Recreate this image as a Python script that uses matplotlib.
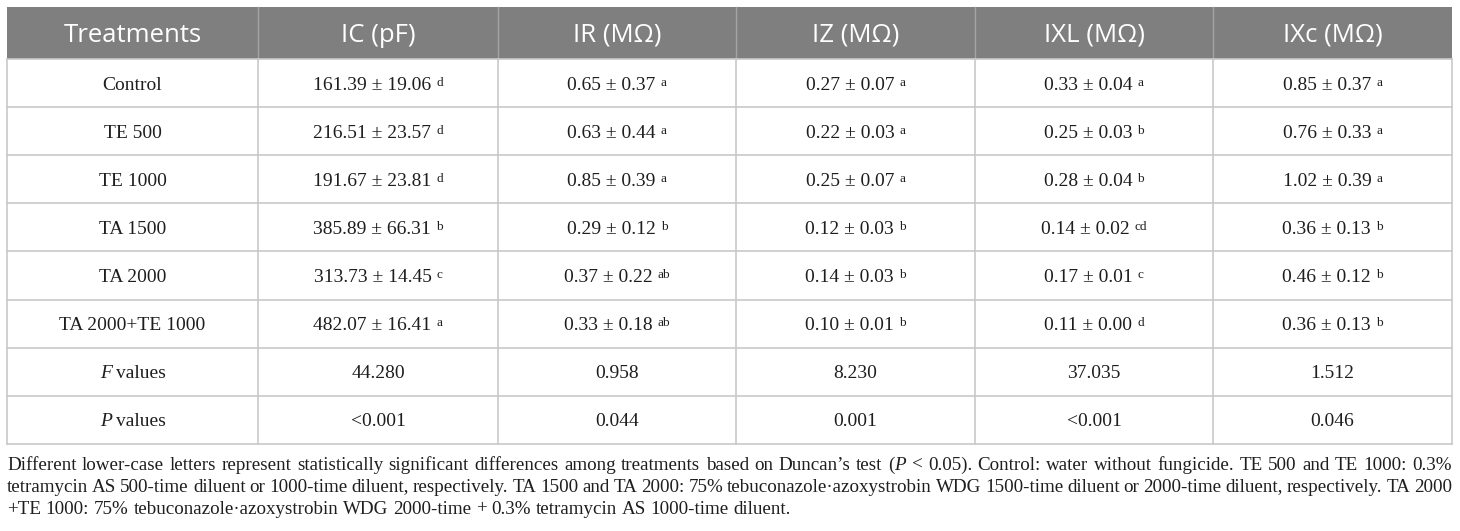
import matplotlib
matplotlib.use('Agg')
import matplotlib.pyplot as plt
from matplotlib.patches import Rectangle

# table content
headers = ['Treatments', 'IC (pF)', 'IR (MΩ)', 'IZ (MΩ)', 'IXL (MΩ)', 'IXc (MΩ)']
treatments = ['Control', 'TE 500', 'TE 1000', 'TA 1500', 'TA 2000', 'TA 2000+TE 1000']

ic_mean = ['161.39', '216.51', '191.67', '385.89', '313.73', '482.07']
ic_sd = ['19.06', '23.57', '23.81', '66.31', '14.45', '16.41']
ic_sig = ['d', 'd', 'd', 'b', 'c', 'a']

ir_mean = ['0.65', '0.63', '0.85', '0.29', '0.37', '0.33']
ir_sd = ['0.37', '0.44', '0.39', '0.12', '0.22', '0.18']
ir_sig = ['a', 'a', 'a', 'b', 'ab', 'ab']

iz_mean = ['0.27', '0.22', '0.25', '0.12', '0.14', '0.10']
iz_sd = ['0.07', '0.03', '0.07', '0.03', '0.03', '0.01']
iz_sig = ['a', 'a', 'a', 'b', 'b', 'b']

ixl_mean = ['0.33', '0.25', '0.28', '0.14', '0.17', '0.11']
ixl_sd = ['0.04', '0.03', '0.04', '0.02', '0.01', '0.00']
ixl_sig = ['a', 'b', 'b', 'cd', 'c', 'd']

ixc_mean = ['0.85', '0.76', '1.02', '0.36', '0.46', '0.36']
ixc_sd = ['0.37', '0.33', '0.39', '0.13', '0.12', '0.13']
ixc_sig = ['a', 'a', 'a', 'b', 'b', 'b']

f_values = ['44.280', '0.958', '8.230', '37.035', '1.512']
p_values = ['<0.001', '0.044', '0.001', '<0.001', '0.046']

caption_lines = [
    'Different lower-case letters represent statistically significant differences among treatments '
    'based on Duncan\u2019s test (*P* < 0.05). Control: water without fungicide. TE 500 and TE 1000: 0.3%',
    'tetramycin AS 500-time diluent or 1000-time diluent, respectively. TA 1500 and TA 2000: 75% '
    'tebuconazole\u00b7azoxystrobin WDG 1500-time diluent or 2000-time diluent, respectively. TA 2000',
    '+TE 1000: 75% tebuconazole\u00b7azoxystrobin WDG 2000-time + 0.3% tetramycin AS 1000-time diluent.',
]

columns = [(ic_mean, ic_sd, ic_sig), (ir_mean, ir_sd, ir_sig), (iz_mean, iz_sd, iz_sig),
           (ixl_mean, ixl_sd, ixl_sig), (ixc_mean, ixc_sd, ixc_sig)]

# layout (pixels)
W, H = 1460, 531
col_x = [7, 258, 498, 736, 975, 1213, 1452]
head_top, head_bot = 7, 59
row_h = 48.1
n_rows = len(treatments) + 2
table_bot = head_bot + n_rows * row_h

SERIF = 'Liberation Serif'
SANS = 'Open Sans'
TXT = '#1e1e1e'
GRID = '#c9c9c9'
BODY_SIZE = 14
SUP_SIZE = 9.5

fig = plt.figure(figsize=(W / 100, H / 100), dpi=100)
ax = fig.add_axes([0, 0, 1, 1])
ax.set_xlim(0, W)
ax.set_ylim(H, 0)
ax.axis('off')
renderer = fig.canvas.get_renderer()


def width_of(s, **kw):
    t = ax.text(0, 0, s, **kw)
    w = t.get_window_extent(renderer).width
    t.remove()
    return w


def runs_centered(cx, y, runs):
    # runs: list of (text, kwargs, dy, gap_before)
    widths = [width_of(r[0], **r[1]) for r in runs]
    total = sum(widths) + sum(r[3] for r in runs)
    x = cx - total / 2
    for r, w in zip(runs, widths):
        x += r[3]
        ax.text(x, y + r[2], r[0], ha='left', va='baseline', color=TXT, **r[1])
        x += w


def row_base(i):
    # half pixels keep words with and without descenders on one baseline
    return round(head_bot + (i + 0.5) * row_h + 6.5) + 0.5


body = dict(family=SERIF, fontsize=BODY_SIZE)
body_i = dict(family=SERIF, fontsize=BODY_SIZE, style='italic')
sup = dict(family=SERIF, fontsize=SUP_SIZE)

# header band
ax.add_patch(Rectangle((col_x[0], head_top), col_x[-1] - col_x[0], head_bot - head_top,
                       facecolor='#7f7f7f', edgecolor='none'))
for x in col_x[1:-1]:
    ax.plot([x, x], [head_top, head_bot], color='#a3a3a3', lw=1)
for j, h in enumerate(headers):
    cx = (col_x[j] + col_x[j + 1]) / 2
    ax.text(cx, 42, h, ha='center', va='baseline', family=SANS, fontsize=18.5, color='white')

# grid
for i in range(n_rows + 1):
    y = head_bot + i * row_h
    ax.plot([col_x[0], col_x[-1]], [y, y], color=GRID, lw=1.2)
for x in col_x:
    ax.plot([x, x], [head_bot, table_bot], color=GRID, lw=1.2)

# body rows
for i, name in enumerate(treatments):
    yb = row_base(i)
    ax.text((col_x[0] + col_x[1]) / 2, yb, name, ha='center', va='baseline', color=TXT, **body)
    for j, (mean, sd, sig) in enumerate(columns):
        cx = (col_x[j + 1] + col_x[j + 2]) / 2
        runs_centered(cx, yb, [(mean[i] + ' \u00b1 ' + sd[i], body, 0, 0),
                               (sig[i], sup, -4, 5)])

stat_rows = [('F', f_values), ('P', p_values)]
for k, (lab, vals) in enumerate(stat_rows):
    yb = row_base(len(treatments) + k)
    runs_centered((col_x[0] + col_x[1]) / 2, yb, [(lab, body_i, 0, 0), ('values', body, 0, 4)])
    for j, v in enumerate(vals):
        cx = (col_x[j + 1] + col_x[j + 2]) / 2
        ax.text(cx, yb, v, ha='center', va='baseline', color=TXT, **body)


# caption, justified like the source
def split_word(wd, cap, cap_i):
    # "*P*" marks italic
    segs = []
    for n, p in enumerate(wd.split('*')):
        if p:
            segs.append((p, cap_i if n % 2 else cap))
    return segs


def measure_lines(size):
    cap = dict(family=SERIF, fontsize=size)
    cap_i = dict(family=SERIF, fontsize=size, style='italic')
    out = []
    for line in caption_lines:
        words = [split_word(w, cap, cap_i) for w in line.split(' ')]
        wws = [sum(width_of(s, **kw) for s, kw in segs) for segs in words]
        out.append((words, wws))
    space = width_of('a a', **cap) - width_of('aa', **cap)
    return out, space


cap_size = 14.8
while True:
    lines, space = measure_lines(cap_size)
    ok = all(sum(wws) + 0.8 * space * (len(wws) - 1) <= col_x[-1] - col_x[0]
             for _, wws in lines[:-1])
    if ok or cap_size < 11:
        break
    cap_size -= 0.1

cap_y0 = 469.5
cap_dy = 22
for li, (words, wws) in enumerate(lines):
    y = cap_y0 + li * cap_dy
    if li == len(lines) - 1:
        gap = space
    else:
        gap = (col_x[-1] - col_x[0] - sum(wws)) / (len(words) - 1)
    x = col_x[0]
    for segs, ww in zip(words, wws):
        xx = x
        for s, kw in segs:
            ax.text(xx, y, s, ha='left', va='baseline', color=TXT, **kw)
            xx += width_of(s, **kw)
        x += ww + gap

fig.savefig('out.png', dpi=100)
